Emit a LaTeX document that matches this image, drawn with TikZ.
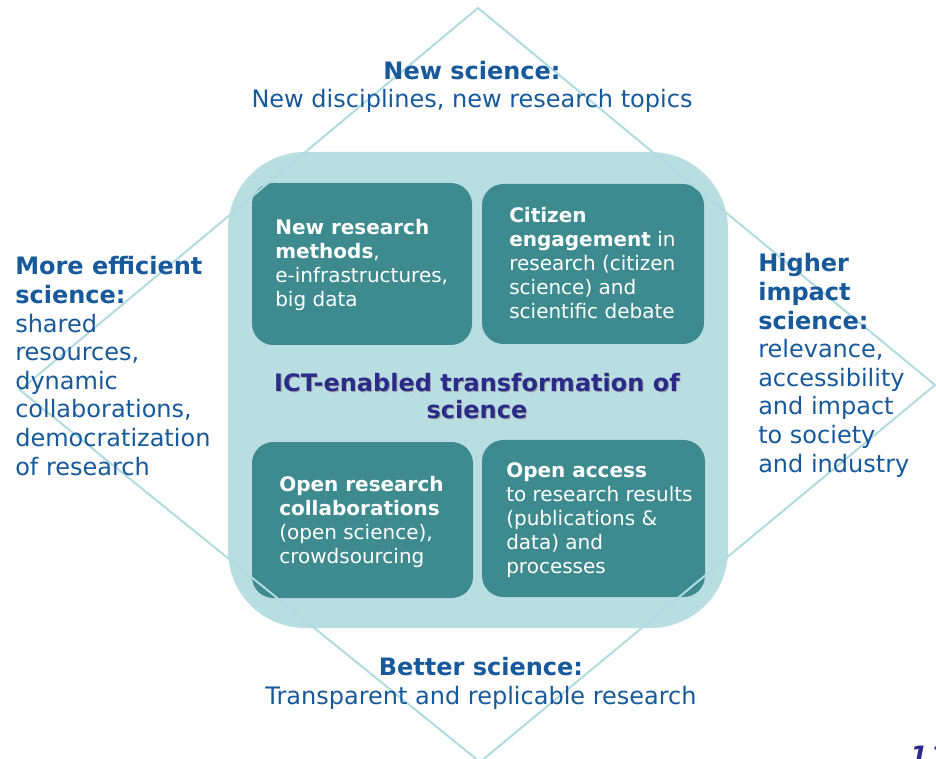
\documentclass[tikz,border=0pt]{standalone}
\usepackage{fontspec}
\setmainfont{DejaVu Sans}
\definecolor{linecyan}{HTML}{B0DBDF}
\definecolor{panelcyan}{HTML}{B9DEE2}
\definecolor{tealbox}{HTML}{3D8B8F}
\definecolor{sciblue}{HTML}{17599A}
\definecolor{titlenavy}{HTML}{2B2B8A}
\tikzset{
  outer/.style={text=sciblue, inner sep=0pt, font=\fontsize{18}{21.45}\selectfont},
  boxtext/.style={text=white, align=left, inner sep=0pt, anchor=base west, font=\fontsize{15}{18}\selectfont},
  tealpanel/.style={fill=tealbox, rounded corners=16pt},
}

\begin{document}
\begin{tikzpicture}[x=0.75pt, y=-0.75pt]
\useasboundingbox (0,0) rectangle (936,759);
\fill[white] (0,0) rectangle (936,759);
\fill[panelcyan, rounded corners=58pt] (228,152) rectangle (728,628);
\fill[tealpanel] (252,183) rectangle (472,345);
\fill[tealpanel] (482,184) rectangle (704,344);
\fill[tealpanel] (252,442) rectangle (473,598);
\fill[tealpanel] (482,440) rectangle (705,597);
\draw[linecyan, line width=1.5pt] (478,8) -- (935,385) -- (480,762) -- (20,390) -- cycle;
\path
(472,108) node[outer, align=center, anchor=base] (newsci) {\textbf{New science:}\\New disciplines, new research topics};
\path
(15,475) node[outer, align=left, anchor=base west] (effsci) {\textbf{More efficient}\\\textbf{science:}\\shared\\resources,\\dynamic\\collaborations,\\democratization\\of research};
\path
(758,472) node[outer, align=left, anchor=base west] (impsci) {\textbf{Higher}\\\textbf{impact}\\\textbf{science:}\\relevance,\\accessibility\\and impact\\to society\\and industry};
\path
(481,704) node[outer, align=center, anchor=base] (betsci) {\textbf{Better science:}\\Transparent and replicable research};
\path
(478,420) node[text=black!35, align=center, anchor=base, inner sep=0pt, font=\fontsize{18}{20.6}\bfseries] (ictshadow) {ICT-enabled transformation of\\science};
\path
(477,419) node[text=titlenavy, align=center, anchor=base, inner sep=0pt, font=\fontsize{18}{20.6}\bfseries] (ict) {ICT-enabled transformation of\\science};
\path
(275,307) node[boxtext] (methods) {\textbf{New research}\\\textbf{methods},\\e-infrastructures,\\big data};
\path
(509,319) node[boxtext] (citizen) {\textbf{Citizen}\\\textbf{engagement} in\\research (citizen\\science) and\\scientific debate};
\path
(279,563) node[boxtext] (collab) {\textbf{Open research}\\\textbf{collaborations}\\(open science),\\crowdsourcing};
\path
(506,573) node[boxtext] (access) {\textbf{Open access}\\to research results\\(publications \&\\data) and\\processes};
\path
(910,764) node[text=titlenavy, anchor=base west, inner sep=0pt, font=\fontsize{19}{19}\bfseries\itshape] (pagenum) {1\kern2pt1};
\end{tikzpicture}
\end{document}
